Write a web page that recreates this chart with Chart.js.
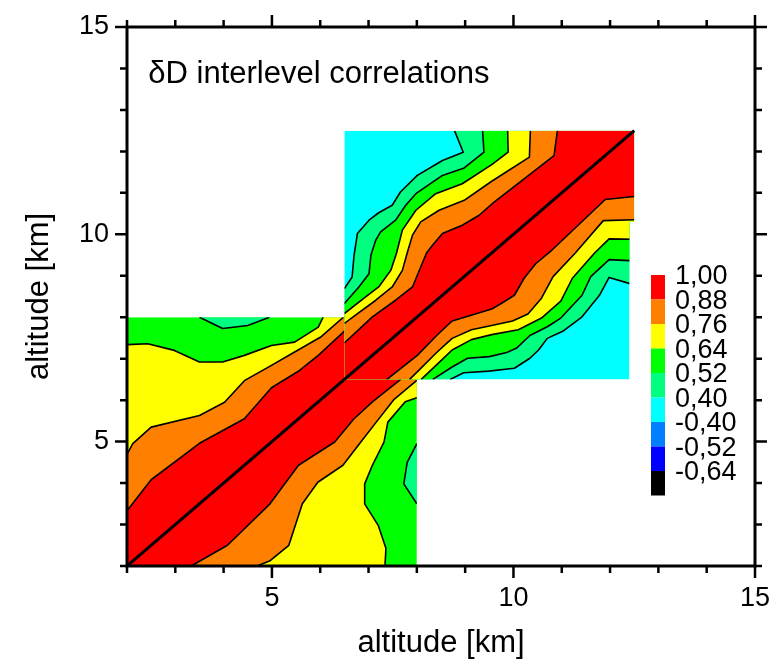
<!DOCTYPE html>
<html>
<head>
<meta charset="utf-8">
<script src="https://cdn.jsdelivr.net/npm/chart.js@4.4.0/dist/chart.umd.min.js"></script>
<style>
  html, body { margin: 0; padding: 0; background: #fff; }
</style>
</head>
<body>
<canvas id="myChart" width="771" height="666"></canvas>
<script>
// colour bar, top to bottom
const levelLabels = ['1,00', '0,88', '0,76', '0,64', '0,52', '0,40', '-0,40', '-0,52', '-0,64'];
const levelColors = ['#ff0000', '#ff8000', '#ffff00', '#00ff00', '#00ff80', '#00ffff', '#0080ff', '#0000ff', '#000000'];

// diagonal (r = 1)
const diagX = [2, 12.5];
const diagY = [2, 12.5];

// lower block, 2..8 km. contours above the diagonal, the matrix is symmetric
const lowBlock = [[2, 2], [8, 2], [8, 8], [2, 8]];
const low88 = [[2, 3.33], [2.5, 4.08], [3.5, 4.96], [4.43, 5.55], [4.99, 6.3], [5.54, 6.69], [5.96, 7.08], [6.44, 7.6], [6.81, 8]];
const low76 = [[2, 4.69], [2.12, 4.95], [2.5, 5.35], [3.5, 5.63], [4.02, 5.95], [4.43, 6.47], [4.99, 6.84], [5.47, 7.16], [6.02, 7.53], [6.48, 8]];
const low64 = [[2, 7.34], [2.43, 7.36], [2.98, 7.2], [3.5, 6.92], [3.98, 6.92], [4.43, 7.08], [4.99, 7.32], [5.47, 7.4], [5.96, 7.76], [6.06, 8]];
const low52 = [[3.5, 8], [3.98, 7.73], [4.5, 7.8], [4.95, 8]];   // small pocket below 0.52

// upper block, 6.5..12.5 km
const upBlock = [[6.5, 6.5], [12.4, 6.5], [12.4, 10.3], [12.5, 10.3], [12.5, 12.5], [6.5, 12.5]];
const up88 = [[6.5, 7.38], [7.08, 8.01], [7.56, 8.41], [7.91, 8.73], [8.08, 9.21], [8.2, 9.55], [8.32, 9.73], [8.53, 10.02], [8.94, 10.22], [9.29, 10.46], [9.58, 10.76], [10.84, 11.9], [10.91, 12.5]];
const up76 = [[6.5, 7.85], [6.73, 8.05], [7.15, 8.41], [7.49, 8.73], [7.7, 9.13], [7.8, 9.55], [7.91, 9.98], [8.08, 10.3], [8.46, 10.58], [8.98, 10.82], [9.55, 11.28], [10.33, 11.86], [10.35, 12.5]];
const up64 = [[6.5, 8.09], [6.94, 8.49], [7.21, 8.73], [7.46, 9.13], [7.58, 9.55], [7.7, 10.1], [7.98, 10.58], [8.39, 10.98], [8.94, 11.22], [9.55, 11.68], [9.89, 11.98], [9.88, 12.5]];
const up52 = [[6.5, 8.33], [6.8, 8.73], [7.01, 9.05], [7.05, 9.5], [7.15, 9.86], [7.25, 10.06], [7.56, 10.34], [7.77, 10.7], [7.98, 10.98], [8.53, 11.42], [8.98, 11.6], [9.39, 11.98], [9.36, 12.5]];
const up40 = [[6.5, 8.69], [6.66, 8.97], [6.7, 9.49], [6.77, 10.02], [7.01, 10.34], [7.21, 10.52], [7.49, 10.7], [7.66, 11.02], [8.01, 11.42], [8.53, 11.78], [8.96, 11.98], [8.78, 12.5]];

const FONT = '"Liberation Sans", Arial, sans-serif';

function mirror(line) {
  return line.map(p => [p[1], p[0]]);
}

// region >= level : the contour, top right corner, mirrored contour back, bottom left corner
function bandRegion(line, lo, hi) {
  const pts = line.slice();
  pts.push([hi, hi]);
  return pts.concat(mirror(line).reverse(), [[lo, lo]]);
}

function pathOf(ctx, chart, pts, close) {
  const xs = chart.scales.x;
  const ys = chart.scales.y;
  ctx.beginPath();
  pts.forEach((p, i) => {
    const px = xs.getPixelForValue(p[0]);
    const py = ys.getPixelForValue(p[1]);
    if (i === 0) ctx.moveTo(px, py); else ctx.lineTo(px, py);
  });
  if (close) ctx.closePath();
}

function drawBlock(ctx, chart, block, baseColor, layers, lo, hi) {
  ctx.save();
  pathOf(ctx, chart, block, true);
  ctx.clip();
  ctx.fillStyle = baseColor;
  pathOf(ctx, chart, block, true);
  ctx.fill();
  layers.forEach(l => {
    ctx.fillStyle = l.color;
    if (l.pocket) {
      pathOf(ctx, chart, l.line, true); ctx.fill();
      pathOf(ctx, chart, mirror(l.line), true); ctx.fill();
    } else {
      pathOf(ctx, chart, bandRegion(l.line, lo, hi), true);
      ctx.fill();
    }
  });
  ctx.strokeStyle = '#000';
  ctx.lineWidth = 1.6;
  ctx.lineJoin = 'round';
  layers.forEach(l => {
    pathOf(ctx, chart, l.line, false); ctx.stroke();
    pathOf(ctx, chart, mirror(l.line), false); ctx.stroke();
  });
  ctx.restore();
}

const contourPlugin = {
  id: 'contours',
  beforeDatasetsDraw(chart) {
    const ctx = chart.ctx;
    drawBlock(ctx, chart, lowBlock, levelColors[3], [
      { line: low52, color: levelColors[4], pocket: true },
      { line: low64, color: levelColors[2] },
      { line: low76, color: levelColors[1] },
      { line: low88, color: levelColors[0] }
    ], 2, 8);
    drawBlock(ctx, chart, upBlock, levelColors[5], [
      { line: up40, color: levelColors[4] },
      { line: up52, color: levelColors[3] },
      { line: up64, color: levelColors[2] },
      { line: up76, color: levelColors[1] },
      { line: up88, color: levelColors[0] }
    ], 6.5, 12.5);
  },
  afterDraw(chart) {
    const ctx = chart.ctx;
    const a = chart.chartArea;
    const xs = chart.scales.x;
    const ys = chart.scales.y;
    ctx.save();
    // frame
    ctx.strokeStyle = '#000';
    ctx.lineWidth = 3;
    ctx.strokeRect(a.left, a.top, a.right - a.left, a.bottom - a.top);
    // ticks on all four sides, pointing out
    ctx.lineWidth = 2.5;
    ctx.beginPath();
    for (let v = 2; v <= 15; v++) {
      const len = v % 5 === 0 ? 12 : 7;
      const px = xs.getPixelForValue(v);
      ctx.moveTo(px, a.bottom); ctx.lineTo(px, a.bottom + len);
      ctx.moveTo(px, a.top); ctx.lineTo(px, a.top - len);
      const py = ys.getPixelForValue(v);
      ctx.moveTo(a.left, py); ctx.lineTo(a.left - len, py);
      ctx.moveTo(a.right, py); ctx.lineTo(a.right + len, py);
    }
    ctx.stroke();

    // title inside the plot
    ctx.fillStyle = '#000';
    ctx.font = '31px ' + FONT;
    ctx.textAlign = 'left';
    ctx.textBaseline = 'alphabetic';
    ctx.fillText('\u03b4D interlevel correlations', xs.getPixelForValue(2.44), ys.getPixelForValue(13.64));

    // colour bar
    const bx = 651, bw = 14, by = 275, bh = 24.5;
    levelColors.forEach((c, i) => {
      ctx.fillStyle = c;
      ctx.fillRect(bx, by + i * bh, bw, bh);
    });
    ctx.fillStyle = '#000';
    ctx.font = '27px ' + FONT;
    ctx.textBaseline = 'middle';
    levelLabels.forEach((t, i) => {
      ctx.fillText(t, 675, by + i * bh + 2);
    });
    ctx.restore();
  }
};

// keep tick label overhang out of the layout, the padding below sets the frame
function noLabelPadding(scale) {
  scale.paddingLeft = 0;
  scale.paddingRight = 0;
  scale.paddingTop = 0;
  scale.paddingBottom = 0;
}

const tickFont = { family: FONT, size: 27 };
const titleFont = { family: FONT, size: 31 };

new Chart(document.getElementById('myChart'), {
  type: 'scatter',
  data: {
    datasets: [{
      data: diagX.map((x, i) => ({ x: x, y: diagY[i] })),
      showLine: true,
      borderColor: '#000',
      borderWidth: 3,
      pointRadius: 0
    }]
  },
  options: {
    responsive: false,
    animation: false,
    devicePixelRatio: 1,
    layout: { padding: { top: 27, right: 16, left: 0, bottom: 0 } },
    plugins: { legend: { display: false }, tooltip: { enabled: false } },
    scales: {
      x: {
        type: 'linear', min: 2, max: 15,
        grid: { display: false, drawTicks: false },
        border: { display: false },
        ticks: {
          stepSize: 1, autoSkip: false, maxRotation: 0, padding: 16,
          color: '#000', font: tickFont,
          callback: v => (v % 5 === 0 ? String(v) : '')
        },
        title: { display: true, text: 'altitude [km]', color: '#000', font: titleFont, padding: { top: 0, bottom: 4 } },
        afterFit(scale) { scale.height = 100; noLabelPadding(scale); }
      },
      y: {
        type: 'linear', min: 2, max: 15,
        grid: { display: false, drawTicks: false },
        border: { display: false },
        ticks: {
          stepSize: 1, autoSkip: false, padding: 18,
          color: '#000', font: tickFont,
          callback: v => (v % 5 === 0 ? String(v) : '')
        },
        title: { display: true, text: 'altitude [km]', color: '#000', font: titleFont, padding: { top: 21, bottom: 0 } },
        afterFit(scale) { scale.width = 127; noLabelPadding(scale); }
      }
    }
  },
  plugins: [contourPlugin]
});
</script>
</body>
</html>
